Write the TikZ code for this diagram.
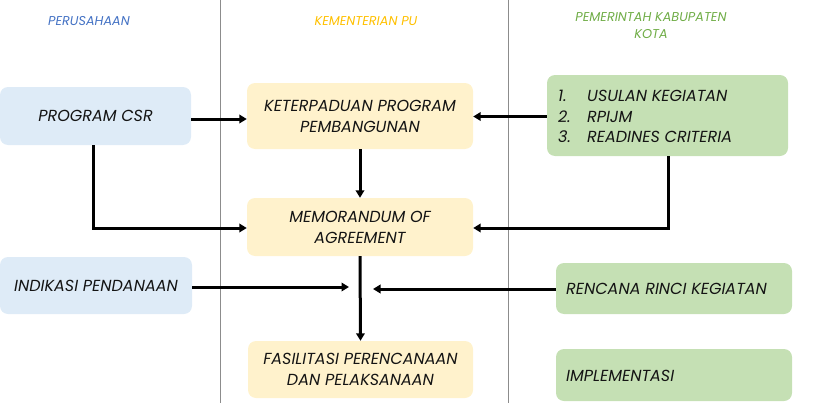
\documentclass[tikz,border=0pt]{standalone}
\usepackage{fontspec}
\setmainfont{Poppins}
\usetikzlibrary{arrows.meta}
\definecolor{bluefill}{HTML}{DEEBF7}
\definecolor{yellowfill}{HTML}{FFF2CC}
\definecolor{greenfill}{HTML}{C5E0B4}
\definecolor{hblue}{HTML}{4472C4}
\definecolor{hgold}{HTML}{FFC000}
\definecolor{hgreen}{HTML}{70AD47}
\definecolor{divider}{HTML}{8C8C8C}
\definecolor{txt}{HTML}{141414}
\begin{document}
\begin{tikzpicture}[x=1pt,y=-1pt,
  box/.style={rounded corners=8pt, inner sep=0pt, align=center, text=txt,
    font=\itshape\fontsize{16}{21}\selectfont},
  hdr/.style={font=\itshape\fontsize{12.8}{17}\selectfont, align=center},
  arr/.style={line width=3pt, -{Triangle[length=7.5pt,width=8.5pt]}},
  lbl/.style={text=txt, font=\itshape\fontsize{16}{21}\selectfont, anchor=west, inner sep=0pt},
  div/.style={draw=divider, line width=1pt}]
\useasboundingbox (0,0) rectangle (828,415);
% dividers
\coordinate (d1t) at (220,0); \coordinate (d1b) at (220,403);
\coordinate (d2t) at (508,0); \coordinate (d2b) at (508,403);
\draw[div] (d1t) -- (d1b);
\draw[div] (d2t) -- (d2b);
% headers
\node[hdr, text=hblue] (h1) at (89,21) {PERUSAHAAN};
\node[hdr, text=hgold] (h2) at (366,21) {KEMENTERIAN PU};
\node[hdr, text=hgreen] (h3) at (651,26) {PEMERINTAH KABUPATEN\\KOTA};
% boxes
\node[box, fill=bluefill, minimum width=191pt, minimum height=58pt] (csr) at (95.5,116) {PROGRAM CSR};
\node[box, fill=bluefill, minimum width=192pt, minimum height=57pt] (ind) at (96,285.5) {INDIKASI PENDANAAN};
\node[box, fill=yellowfill, minimum width=226pt, minimum height=66pt] (ket) at (360,116) {KETERPADUAN PROGRAM\\PEMBANGUNAN};
\node[box, fill=yellowfill, minimum width=226pt, minimum height=58pt] (moa) at (360,227) {MEMORANDUM OF\\AGREEMENT};
\node[box, fill=yellowfill, minimum width=225pt, minimum height=57pt] (fas) at (360.5,369.5) {FASILITASI PERENCANAAN\\DAN PELAKSANAAN};
\node[box, fill=greenfill, minimum width=241pt, minimum height=81pt] (usl) at (667.5,115.5) {};
\node[box, fill=greenfill, minimum width=236pt, minimum height=51pt] (rrk) at (674,288.5) {};
\node[box, fill=greenfill, minimum width=236pt, minimum height=52pt] (imp) at (674,375) {};
% texts in green boxes
\node[lbl] (n1) at (558,96) {1.};
\node[lbl] (n2) at (558,116.5) {2.};
\node[lbl] (n3) at (558,137) {3.};
\node[lbl] (t1) at (587,96) {USULAN KEGIATAN};
\node[lbl] (t2) at (587,116.5) {RPIJM};
\node[lbl] (t3) at (587,137) {READINES CRITERIA};
\node[lbl] (trrk) at (566,289) {RENCANA RINCI KEGIATAN};
\node[lbl] (timp) at (566,376) {IMPLEMENTASI};
% connectors
\draw[arr] (csr.east |- 0,119) -- (ket.west |- 0,119);
\draw[arr] (usl.west |- 0,116.5) -- (ket.east |- 0,116.5);
\draw[arr] (ket.south) -- (moa.north);
\draw[arr] (csr.south -| 93,0) |- (moa.west |- 0,228);
\draw[arr] (usl.south -| 668,0) |- (moa.east |- 0,228);
\draw[arr] (moa.south) -- (fas.north);
\coordinate (mL) at (349,287);
\coordinate (mR) at (373,289);
\draw[arr] (ind.east |- mL) -- (mL);
\draw[arr] (rrk.west |- mR) -- (mR);
\end{tikzpicture}
\end{document}
